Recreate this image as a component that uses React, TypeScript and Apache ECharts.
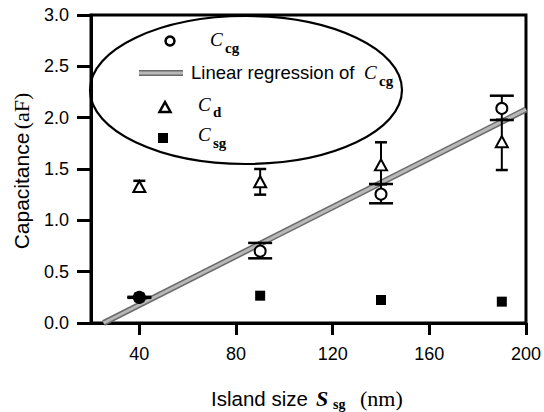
import React, { useEffect, useRef } from "react";
import * as echarts from "echarts";

// Island sizes (nm)
const sizes = [40, 90, 140, 190];
// C_cg (aF) with error bounds
const ccg = [0.25, 0.7, 1.255, 2.09];
const ccgLow = [0.245, 0.63, 1.166, 1.977];
const ccgHigh = [0.255, 0.78, 1.354, 2.214];
// C_d (aF) with error bounds
const cd = [1.33, 1.376, 1.54, 1.766];
const cdLow = [1.28, 1.25, 1.35, 1.49];
const cdHigh = [1.385, 1.5, 1.76, 1.98];
// C_sg (aF)
const csg = [0.25, 0.266, 0.224, 0.208];
// Linear regression of C_cg (end points)
const regX = [25.2, 200];
const regY = [0, 2.08];
// tick labels
const xTicks = [40, 80, 120, 160, 200];

const SANS = "Liberation Sans";
const SERIF = "Liberation Serif";

function errorBarSeries(lo: number[], hi: number[], capW: number) {
  return {
    type: "custom",
    z: 3,
    silent: true,
    data: sizes.map((s, i) => [s, lo[i], hi[i]]),
    renderItem: (params: any, api: any) => {
      const x = api.value(0);
      const pLo = api.coord([x, api.value(1)]);
      const pHi = api.coord([x, api.value(2)]);
      const st = { stroke: "#000", lineWidth: 2.5 };
      return {
        type: "group",
        children: [
          { type: "line", shape: { x1: pLo[0], y1: pLo[1], x2: pHi[0], y2: pHi[1] }, style: { stroke: "#000", lineWidth: 2 } },
          { type: "line", shape: { x1: pLo[0] - capW / 2, y1: pLo[1], x2: pLo[0] + capW / 2, y2: pLo[1] }, style: st },
          { type: "line", shape: { x1: pHi[0] - capW / 2, y1: pHi[1], x2: pHi[0] + capW / 2, y2: pHi[1] }, style: st },
        ],
      };
    },
  };
}

function txt(text: string, x: number, y: number, font: any, align = "left") {
  return {
    type: "text",
    x,
    y,
    z: 20,
    style: {
      text,
      fill: "#000",
      align,
      textAlign: align,
      verticalAlign: "middle",
      textVerticalAlign: "middle",
      ...font,
    },
  };
}

const fC = { fontFamily: SERIF, fontStyle: "italic", fontSize: 19 };
const fSub = { fontFamily: SERIF, fontWeight: "bold", fontSize: 15 };

export default function App() {
  const ref = useRef<HTMLDivElement>(null);
  useEffect(() => {
    const chart = echarts.init(ref.current!, undefined, { renderer: "svg" });
    const regData = regX.map((x, i) => [x, regY[i]]);
    chart.setOption({
      animation: false,
      backgroundColor: "#fff",
      grid: { left: 91, right: 17, top: 15, bottom: 89, show: true, borderColor: "#000", borderWidth: 3, backgroundColor: "transparent" },
      xAxis: {
        type: "value",
        min: 20,
        max: 200,
        splitLine: { show: false },
        axisLine: { show: true, lineStyle: { color: "#000", width: 3 } },
        axisTick: { show: true, customValues: xTicks, length: 12, lineStyle: { color: "#000", width: 3 } },
        axisLabel: { customValues: xTicks, color: "#000", fontFamily: SANS, fontSize: 18, margin: 22 },
      },
      yAxis: {
        type: "value",
        min: 0,
        max: 3,
        interval: 0.5,
        splitLine: { show: false },
        axisLine: { show: true, lineStyle: { color: "#000", width: 3 } },
        axisTick: { show: true, length: 14, lineStyle: { color: "#000", width: 3 } },
        axisLabel: { color: "#000", fontFamily: SANS, fontSize: 18, margin: 22, formatter: (v: number) => v.toFixed(1) },
      },
      series: [
        {
          type: "line",
          z: 1,
          data: regData,
          symbol: "none",
          silent: true,
          lineStyle: { color: "#6a6a6a", width: 6 },
        },
        {
          type: "line",
          z: 2,
          data: regData,
          symbol: "none",
          silent: true,
          lineStyle: { color: "#b8b8b8", width: 3 },
        },
        errorBarSeries(ccgLow, ccgHigh, 24),
        errorBarSeries(cdLow, cdHigh, 12),
        {
          type: "scatter",
          z: 5,
          data: sizes.map((s, i) => [s, ccg[i]]),
          symbol: "emptyCircle",
          symbolSize: 11,
          itemStyle: { color: "#000", borderColor: "#000", borderWidth: 2.5, opacity: 1 },
        },
        {
          type: "scatter",
          z: 5,
          data: sizes.map((s, i) => [s, cd[i]]),
          symbol: "emptyTriangle",
          symbolSize: [12, 11],
          itemStyle: { color: "#000", borderColor: "#000", borderWidth: 2.5, opacity: 1 },
        },
        {
          type: "scatter",
          z: 6,
          data: sizes.map((s, i) => [s, csg[i]]),
          symbol: "rect",
          symbolSize: 10,
          itemStyle: { color: "#000", opacity: 1 },
        },
      ],
      graphic: [
        {
          type: "ellipse",
          z: 10,
          shape: { cx: 246, cy: 90, rx: 156, ry: 74 },
          style: { fill: "transparent", stroke: "#000", lineWidth: 2.2 },
        },
        // legend markers
        { type: "circle", z: 20, shape: { cx: 170, cy: 41, r: 4.5 }, style: { fill: "#fff", stroke: "#000", lineWidth: 2.5 } },
        { type: "line", z: 20, shape: { x1: 139, y1: 73, x2: 183, y2: 73 }, style: { stroke: "#6a6a6a", lineWidth: 6 } },
        { type: "line", z: 21, shape: { x1: 139, y1: 73, x2: 183, y2: 73 }, style: { stroke: "#b8b8b8", lineWidth: 3 } },
        { type: "polygon", z: 20, shape: { points: [[165, 102], [170.5, 112], [159.5, 112]] }, style: { fill: "#fff", stroke: "#000", lineWidth: 2.5 } },
        { type: "rect", z: 20, shape: { x: 158, y: 133, width: 10, height: 10 }, style: { fill: "#000" } },
        // legend texts
        txt("C", 210, 39, fC),
        txt("cg", 225, 47.5, fSub),
        txt("Linear regression of", 191, 72, { fontFamily: SANS, fontSize: 18.5 }),
        txt("C", 364, 72, fC),
        txt("cg", 379, 80.5, fSub),
        txt("C", 198, 104, fC),
        txt("d", 213, 112, fSub),
        txt("C", 198, 134, fC),
        txt("sg", 213, 143, fSub),
        // axis titles
        {
          type: "text",
          x: 21,
          y: 171,
          rotation: Math.PI / 2,
          z: 20,
          style: {
            text: "{a|Capacitance} {b|(aF)}",
            align: "center",
            textAlign: "center",
            verticalAlign: "middle",
            textVerticalAlign: "middle",
            fill: "#000",
            rich: {
              a: { fontFamily: SANS, fontSize: 21, fill: "#000" },
              b: { fontFamily: SERIF, fontSize: 22, fill: "#000" },
            },
          },
        },
        txt("Island size", 211, 398, { fontFamily: SANS, fontSize: 20.5 }),
        txt("S", 316, 398, { fontFamily: SERIF, fontStyle: "italic", fontWeight: "bold", fontSize: 22 }),
        txt("sg", 333, 404, { fontFamily: SERIF, fontWeight: "bold", fontSize: 14 }),
        txt("(nm)", 360, 398, { fontFamily: SERIF, fontSize: 22 }),
      ],
    });
    return () => chart.dispose();
  }, []);
  return <div ref={ref} style={{ position: "fixed", left: 0, top: 0, width: 544, height: 412 }} />;
}
